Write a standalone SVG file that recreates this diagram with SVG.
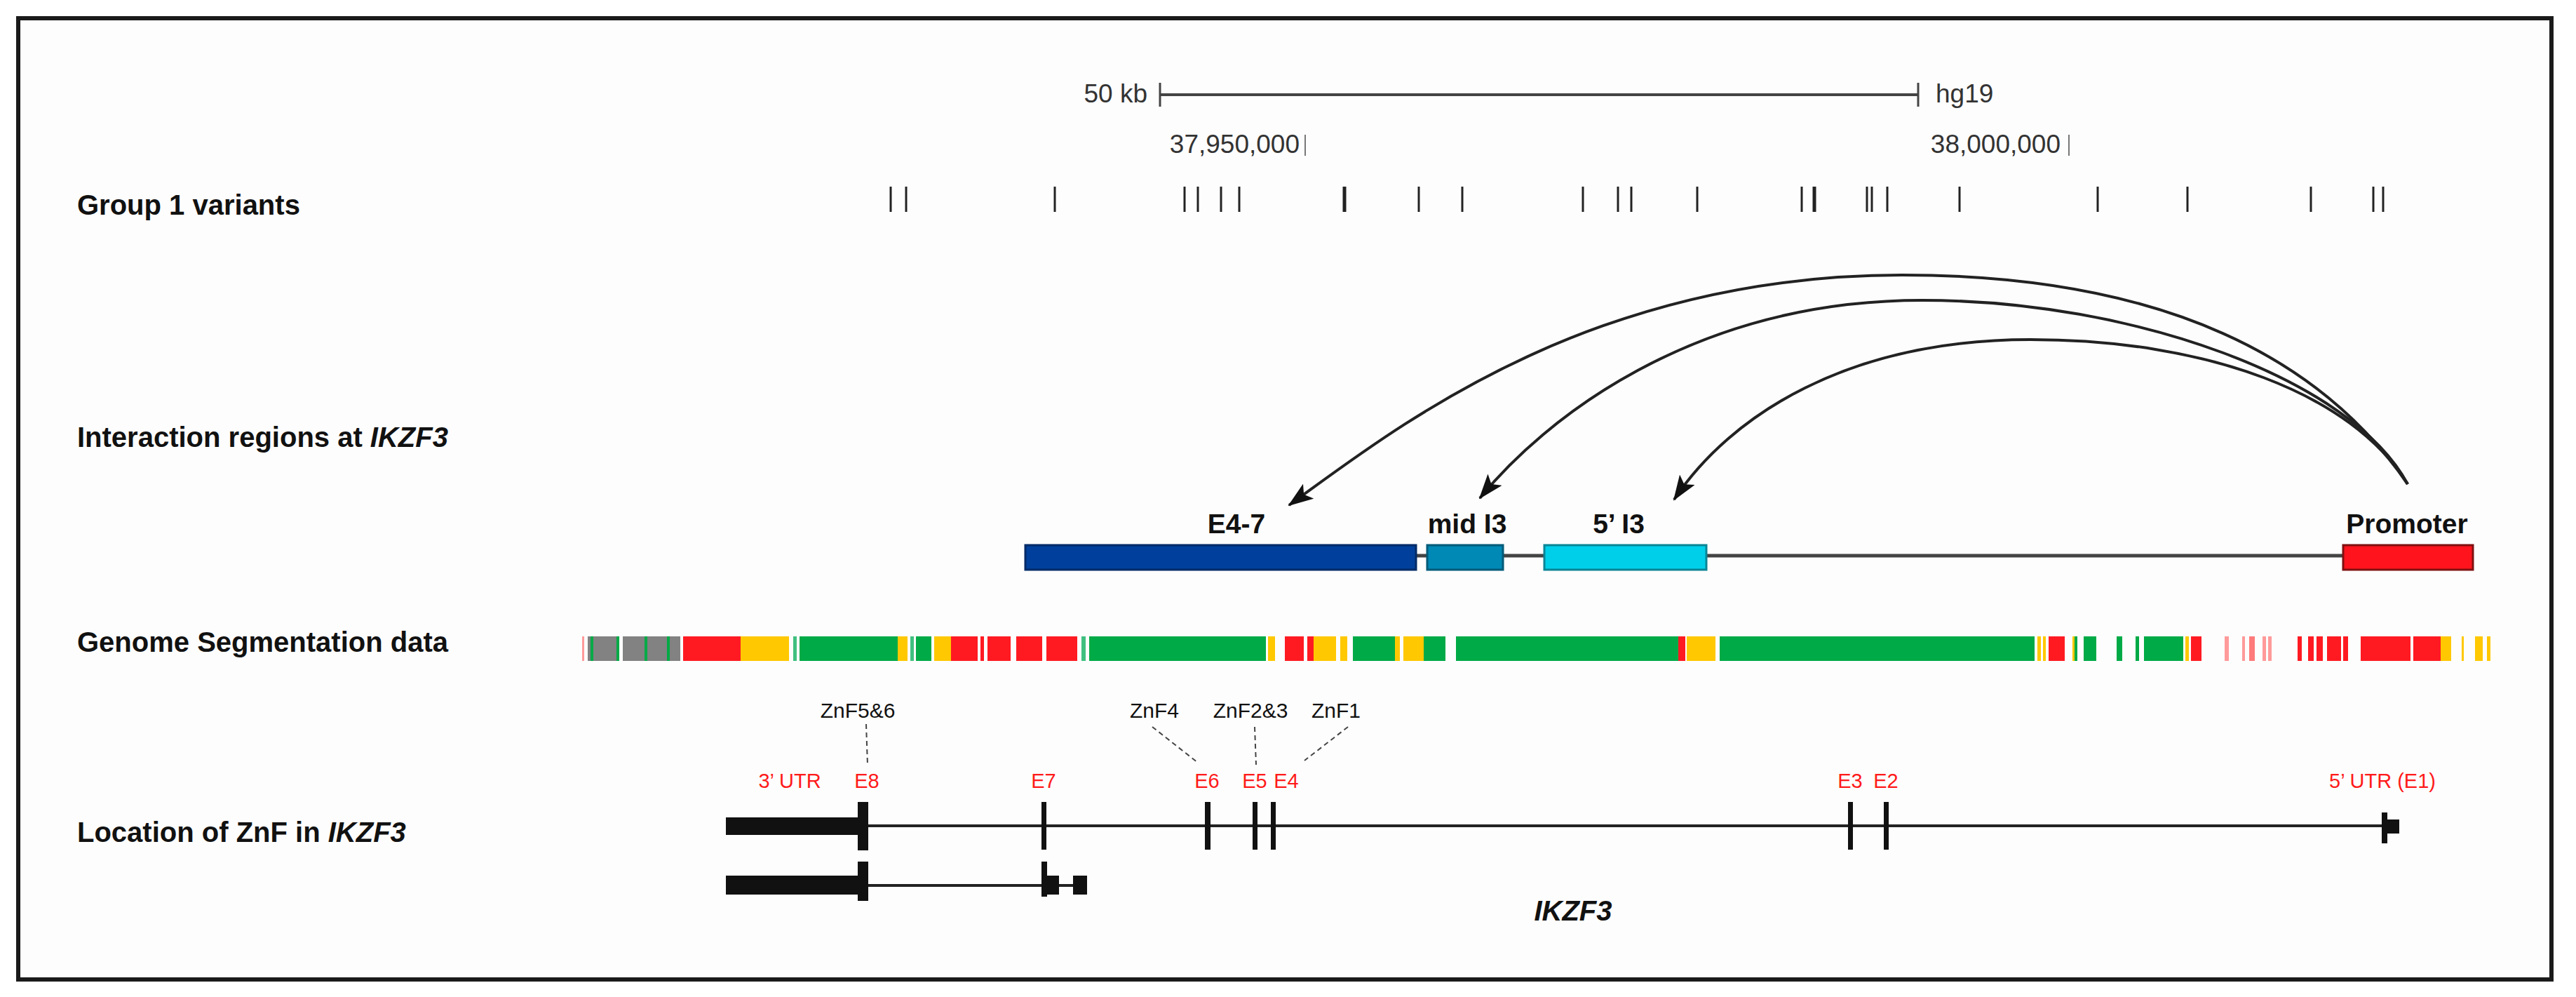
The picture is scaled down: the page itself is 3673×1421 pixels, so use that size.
<svg xmlns="http://www.w3.org/2000/svg" width="3673" height="1421" viewBox="0 0 3673 1421">
<style>
.lbl{font-family:"Liberation Sans",Arial,sans-serif;font-weight:bold;font-size:40px;fill:#111}
.sc{font-family:"Liberation Sans",Arial,sans-serif;font-size:37px;fill:#333}
.bx{font-family:"Liberation Sans",Arial,sans-serif;font-weight:bold;font-size:39px;fill:#111;text-anchor:middle}
.zn{font-family:"Liberation Sans",Arial,sans-serif;font-size:30px;fill:#111;text-anchor:middle}
.ex{font-family:"Liberation Sans",Arial,sans-serif;font-size:29px;fill:#ff1a1a;text-anchor:middle}
.var line{stroke:#222;stroke-width:3}
.r{fill:#ff1a22}.y{fill:#ffc800}.g{fill:#00aa46}.gr{fill:#828282}.pk{fill:#ff9a9a}.lg{fill:#40c080}
.dash{stroke:#444;stroke-width:2;stroke-dasharray:7 5;fill:none}
.arc{fill:none;stroke:#222;stroke-width:4;marker-end:url(#ah)}
.ink{fill:#111}
</style>
<defs>
<marker id="ah" viewBox="0 0 36 26" refX="34" refY="13" markerWidth="36" markerHeight="26" markerUnits="userSpaceOnUse" orient="auto">
<path d="M0,0 L36,13 L0,26 L8,13 z" fill="#111"/>
</marker>
</defs>
<rect x="0" y="0" width="3673" height="1421" fill="#ffffff"/>
<rect x="26" y="26" width="3612" height="1370" fill="#fdfdfd" stroke="#1a1a1a" stroke-width="6"/>

<g id="row-labels">
<text class="lbl" x="110" y="306">Group 1 variants</text>
<text class="lbl" x="110" y="637">Interaction regions at <tspan font-style="italic">IKZF3</tspan></text>
<text class="lbl" x="110" y="929">Genome Segmentation data</text>
<text class="lbl" x="110" y="1200">Location of ZnF in <tspan font-style="italic">IKZF3</tspan></text>
</g>

<g id="scale-bar">
<text class="sc" x="1636" y="146" text-anchor="end">50 kb</text>
<line x1="1654" y1="135" x2="2735" y2="135" stroke="#444" stroke-width="4"/>
<line x1="1654" y1="118" x2="1654" y2="152" stroke="#444" stroke-width="3"/>
<line x1="2735" y1="118" x2="2735" y2="152" stroke="#444" stroke-width="3"/>
<text class="sc" x="2760" y="146">hg19</text>
<text class="sc" x="1853" y="218" text-anchor="end">37,950,000</text>
<line x1="1861" y1="192" x2="1861" y2="222" stroke="#777" stroke-width="2"/>
<text class="sc" x="2938" y="218" text-anchor="end">38,000,000</text>
<line x1="2950" y1="192" x2="2950" y2="222" stroke="#777" stroke-width="2"/>
</g>

<g id="variants" class="var">
<line x1="1270" y1="266" x2="1270" y2="302"/>
<line x1="1292" y1="266" x2="1292" y2="302"/>
<line x1="1504" y1="266" x2="1504" y2="302"/>
<line x1="1689" y1="266" x2="1689" y2="302"/>
<line x1="1708" y1="266" x2="1708" y2="302"/>
<line x1="1741" y1="266" x2="1741" y2="302"/>
<line x1="1767" y1="266" x2="1767" y2="302"/>
<line x1="1917" y1="266" x2="1917" y2="302" style="stroke-width:5"/>
<line x1="2023" y1="266" x2="2023" y2="302"/>
<line x1="2085" y1="266" x2="2085" y2="302"/>
<line x1="2257" y1="266" x2="2257" y2="302"/>
<line x1="2307" y1="266" x2="2307" y2="302"/>
<line x1="2326" y1="266" x2="2326" y2="302"/>
<line x1="2420" y1="266" x2="2420" y2="302"/>
<line x1="2569" y1="266" x2="2569" y2="302"/>
<line x1="2587" y1="266" x2="2587" y2="302" style="stroke-width:5"/>
<line x1="2662" y1="266" x2="2662" y2="302"/>
<line x1="2669" y1="266" x2="2669" y2="302"/>
<line x1="2691" y1="266" x2="2691" y2="302"/>
<line x1="2794" y1="266" x2="2794" y2="302"/>
<line x1="2991" y1="266" x2="2991" y2="302"/>
<line x1="3119" y1="266" x2="3119" y2="302"/>
<line x1="3295" y1="266" x2="3295" y2="302"/>
<line x1="3384" y1="266" x2="3384" y2="302"/>
<line x1="3398" y1="266" x2="3398" y2="302"/>
</g>

<g id="interaction-line">
<line x1="2019" y1="792" x2="3341" y2="792" stroke="#444" stroke-width="5"/>
</g>
<g id="region-E4-7">
<rect x="1462" y="777" width="557" height="35" fill="#00409c" stroke="#002a66" stroke-width="3"/>
<text class="bx" x="1763" y="760">E4-7</text>
</g>
<g id="region-midI3">
<rect x="2035" y="777" width="108" height="35" fill="#0089b5" stroke="#005a78" stroke-width="3"/>
<text class="bx" x="2092" y="760">mid I3</text>
</g>
<g id="region-5I3">
<rect x="2202" y="777" width="231" height="35" fill="#00cfea" stroke="#0a8595" stroke-width="3"/>
<text class="bx" x="2308" y="760">5’ I3</text>
</g>
<g id="region-promoter">
<rect x="3341" y="777" width="185" height="35" fill="#ff141e" stroke="#801010" stroke-width="3"/>
<text class="bx" x="3432" y="760">Promoter</text>
</g>

<g id="connectors">
<path class="arc" d="M3433,690 C3313,515 3092,392 2712,392 C2262,392 1988,612 1838,720"/>
<path class="arc" d="M3433,690 C3353,540 3041,428 2741,428 C2411,428 2200,600 2110,710"/>
<path class="arc" d="M3433,690 C3353,560 3145,484 2895,484 C2635,484 2467,592 2387,712"/>
</g>

<g id="segmentation">
<rect class="pk" x="830" y="907" width="3" height="35"/>
<rect class="gr" x="838" y="907" width="44" height="35"/>
<rect class="gr" x="888" y="907" width="82" height="35"/>
<rect class="g" x="842" y="907" width="4" height="35"/>
<rect class="g" x="879" y="907" width="4" height="35"/>
<rect class="g" x="919" y="907" width="4" height="35"/>
<rect class="g" x="951" y="907" width="4" height="35"/>
<rect class="r" x="974" y="907" width="82" height="35"/>
<rect class="y" x="1056" y="907" width="69" height="35"/>
<rect class="lg" x="1131" y="907" width="5" height="35"/>
<rect class="g" x="1140" y="907" width="140" height="35"/>
<rect class="y" x="1280" y="907" width="14" height="35"/>
<rect class="lg" x="1298" y="907" width="5" height="35"/>
<rect class="g" x="1306" y="907" width="22" height="35"/>
<rect class="y" x="1332" y="907" width="24" height="35"/>
<rect class="r" x="1356" y="907" width="38" height="35"/>
<rect class="r" x="1398" y="907" width="5" height="35"/>
<rect class="r" x="1408" y="907" width="33" height="35"/>
<rect class="r" x="1449" y="907" width="37" height="35"/>
<rect class="r" x="1492" y="907" width="44" height="35"/>
<rect class="lg" x="1542" y="907" width="6" height="35"/>
<rect class="g" x="1553" y="907" width="252" height="35"/>
<rect class="y" x="1808" y="907" width="10" height="35"/>
<rect class="r" x="1832" y="907" width="27" height="35"/>
<rect class="r" x="1864" y="907" width="9" height="35"/>
<rect class="y" x="1873" y="907" width="32" height="35"/>
<rect class="y" x="1911" y="907" width="10" height="35"/>
<rect class="g" x="1929" y="907" width="60" height="35"/>
<rect class="y" x="1989" y="907" width="7" height="35"/>
<rect class="y" x="2001" y="907" width="29" height="35"/>
<rect class="g" x="2030" y="907" width="31" height="35"/>
<rect class="g" x="2076" y="907" width="317" height="35"/>
<rect class="r" x="2393" y="907" width="10" height="35"/>
<rect class="y" x="2405" y="907" width="41" height="35"/>
<rect class="g" x="2452" y="907" width="449" height="35"/>
<rect class="y" x="2905" y="907" width="5" height="35"/>
<rect class="y" x="2913" y="907" width="4" height="35"/>
<rect class="r" x="2921" y="907" width="23" height="35"/>
<rect class="y" x="2955" y="907" width="3" height="35"/>
<rect class="g" x="2958" y="907" width="4" height="35"/>
<rect class="g" x="2971" y="907" width="18" height="35"/>
<rect class="g" x="3018" y="907" width="8" height="35"/>
<rect class="g" x="3045" y="907" width="5" height="35"/>
<rect class="g" x="3057" y="907" width="56" height="35"/>
<rect class="y" x="3116" y="907" width="5" height="35"/>
<rect class="r" x="3124" y="907" width="15" height="35"/>
<rect class="pk" x="3172" y="907" width="6" height="35"/>
<rect class="pk" x="3197" y="907" width="4" height="35"/>
<rect class="pk" x="3207" y="907" width="8" height="35" style="fill:#ff7a7a"/>
<rect class="pk" x="3226" y="907" width="5" height="35"/>
<rect class="pk" x="3234" y="907" width="5" height="35"/>
<rect class="r" x="3276" y="907" width="6" height="35"/>
<rect class="r" x="3291" y="907" width="8" height="35"/>
<rect class="r" x="3303" y="907" width="9" height="35"/>
<rect class="r" x="3318" y="907" width="20" height="35"/>
<rect class="r" x="3341" y="907" width="7" height="35"/>
<rect class="r" x="3366" y="907" width="71" height="35"/>
<rect class="r" x="3441" y="907" width="39" height="35"/>
<rect class="y" x="3480" y="907" width="15" height="35"/>
<rect class="y" x="3510" y="907" width="3" height="35"/>
<rect class="y" x="3529" y="907" width="11" height="35"/>
<rect class="y" x="3546" y="907" width="5" height="35"/>
</g>

<g id="znf-labels">
<text class="zn" x="1223" y="1023">ZnF5&amp;6</text>
<text class="zn" x="1646" y="1023">ZnF4</text>
<text class="zn" x="1783" y="1023">ZnF2&amp;3</text>
<text class="zn" x="1905" y="1023">ZnF1</text>
<line class="dash" x1="1235" y1="1032" x2="1237" y2="1090"/>
<line class="dash" x1="1643" y1="1036" x2="1708" y2="1087"/>
<line class="dash" x1="1789" y1="1036" x2="1791" y2="1090"/>
<line class="dash" x1="1922" y1="1036" x2="1860" y2="1084"/>
</g>

<g id="exon-labels">
<text class="ex" x="1126" y="1123">3’ UTR</text>
<text class="ex" x="1236" y="1123">E8</text>
<text class="ex" x="1488" y="1123">E7</text>
<text class="ex" x="1721" y="1123">E6</text>
<text class="ex" x="1789" y="1123">E5</text>
<text class="ex" x="1834" y="1123">E4</text>
<text class="ex" x="2638" y="1123">E3</text>
<text class="ex" x="2689" y="1123">E2</text>
<text class="ex" x="3397" y="1123">5’ UTR (E1)</text>
</g>

<g id="transcript-1">
<line x1="1230" y1="1177" x2="3400" y2="1177" stroke="#222" stroke-width="4"/>
<rect class="ink" x="1035" y="1165" width="190" height="25"/>
<rect class="ink" x="1223" y="1143" width="15" height="69"/>
<rect class="ink" x="1485" y="1143" width="7" height="68"/>
<rect class="ink" x="1718" y="1143" width="8" height="68"/>
<rect class="ink" x="1786" y="1143" width="7" height="68"/>
<rect class="ink" x="1812" y="1143" width="7" height="68"/>
<rect class="ink" x="2635" y="1143" width="7" height="68"/>
<rect class="ink" x="2686" y="1143" width="7" height="68"/>
<rect class="ink" x="3396" y="1158" width="8" height="44"/>
<rect class="ink" x="3404" y="1168" width="17" height="20"/>
</g>

<g id="transcript-2">
<line x1="1230" y1="1262" x2="1540" y2="1262" stroke="#222" stroke-width="4"/>
<rect class="ink" x="1035" y="1248" width="190" height="27"/>
<rect class="ink" x="1223" y="1228" width="15" height="56"/>
<rect class="ink" x="1485" y="1228" width="8" height="50"/>
<rect class="ink" x="1493" y="1248" width="17" height="27"/>
<rect class="ink" x="1530" y="1248" width="20" height="27"/>
<text x="2243" y="1312" font-family="Liberation Sans, Arial, sans-serif" font-weight="bold" font-style="italic" font-size="40" fill="#111" text-anchor="middle">IKZF3</text>
</g>
</svg>
